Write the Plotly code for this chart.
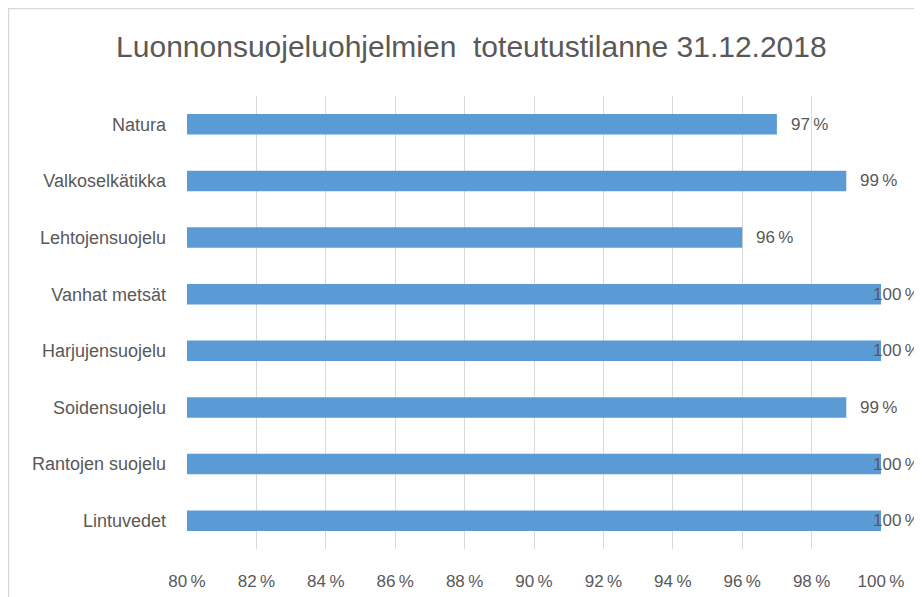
import plotly.graph_objects as go

categories = ["Natura", "Valkoselkätikka", "Lehtojensuojelu", "Vanhat metsät",
              "Harjujensuojelu", "Soidensuojelu", "Rantojen suojelu", "Lintuvedet"]
values = [97, 99, 96, 100, 100, 99, 100, 100]
tick_vals = [80, 82, 84, 86, 88, 90, 92, 94, 96, 98, 100]
tick_text = [f"{v}\u202f%" for v in tick_vals]
title_text = "Luonnonsuojeluohjelmien  toteutustilanne 31.12.2018"

TXT = "#595959"
FONT = "Liberation Sans"

fig = go.Figure()
fig.add_trace(go.Bar(
    y=categories, x=values, orientation="h",
    marker=dict(color="#5b9bd5", line=dict(width=0)),
    width=0.36, base=0,
))

for c, v in zip(categories, values):
    fig.add_annotation(
        x=v, y=c, xref="x", yref="y", text=f"{v}\u202f%", showarrow=False,
        xanchor="left", xshift=(12 if v < 100 else -10),
        font=dict(family=FONT, size=17, color=TXT),
    )

fig.update_layout(
    width=914, height=589,
    paper_bgcolor="white", plot_bgcolor="white",
    margin=dict(l=179, r=41, t=88, b=48, autoexpand=False),
    showlegend=False,
    title=dict(text=title_text, x=0.507, xanchor="center", y=0.934, yanchor="middle",
               font=dict(family=FONT, size=30, color=TXT)),
    font=dict(family=FONT, size=17, color=TXT),
    shapes=[dict(type="rect", xref="paper", yref="paper",
                 x0=-0.2572, x1=1.2, y0=-0.3, y1=1.193,
                 line=dict(color="#d9d9d9", width=1.5))],
)
fig.update_xaxes(range=[80, 100], tickvals=tick_vals, ticktext=tick_text,
                 showgrid=True, gridcolor="#d9d9d9", gridwidth=1,
                 zeroline=False, showline=False, ticks="",
                 ticklabelstandoff=20,
                 tickfont=dict(family=FONT, size=17, color=TXT))
fig.update_yaxes(categoryorder="array", categoryarray=categories[::-1],
                 autorange=False, range=[-0.5, 7.5],
                 showgrid=False, zeroline=False, showline=False, ticks="",
                 ticklabelstandoff=20,
                 tickfont=dict(family=FONT, size=18, color=TXT))

fig.write_html("out.html")
